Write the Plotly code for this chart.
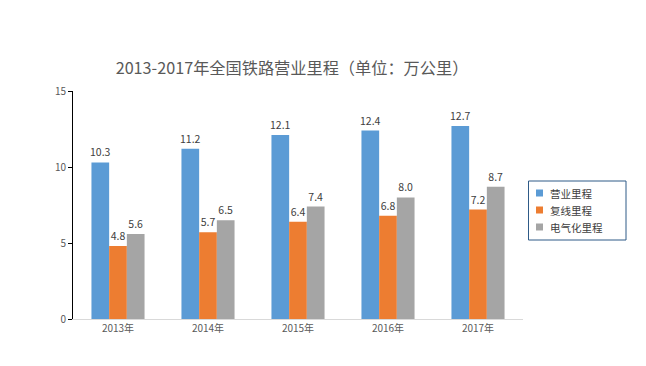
import plotly.graph_objects as go

years = ["2013年", "2014年", "2015年", "2016年", "2017年"]
yingye = [10.3, 11.2, 12.1, 12.4, 12.7]
fuxian = [4.8, 5.7, 6.4, 6.8, 7.2]
dianqi = [5.6, 6.5, 7.4, 8.0, 8.7]
names = ["营业里程", "复线里程", "电气化里程"]
colors = ["#5b9bd5", "#ed7d31", "#a5a5a5"]

# page body has an 8px default margin; figure is sized to fit the window
W, H, OFF = 638, 358, 8
PL, PR, PT, PB = 73, 523, 91, 319  # plot area in window pixels

def px(x):
    return (x - PL) / (PR - PL)

def py(y):
    return (PB - y) / (PB - PT)

fig = go.Figure()
for name, vals, c in zip(names, [yingye, fuxian, dianqi], colors):
    fig.add_trace(go.Bar(
        x=years, y=vals, name=name, marker_color=c, marker_line_width=0,
        text=[f"{v:.1f}" for v in vals], textposition="outside",
        constraintext="none", showlegend=False,
        textfont=dict(size=10.5, color="#404040"), cliponaxis=False,
    ))

# legend box drawn from the series names/colours
shapes = [dict(type="rect", xref="paper", yref="paper",
               x0=px(528.5), x1=px(626), y0=py(181), y1=py(240),
               line=dict(color="#2e5a87", width=1), fillcolor="rgba(0,0,0,0)")]
annotations = []
for i, (name, c) in enumerate(zip(names, colors)):
    yc = 193 + i * 17
    shapes.append(dict(type="rect", xref="paper", yref="paper",
                       x0=px(536), x1=px(543), y0=py(yc - 3.5), y1=py(yc + 3.5),
                       line=dict(width=0), fillcolor=c))
    annotations.append(dict(xref="paper", yref="paper", x=px(548), y=py(yc),
                            xanchor="left", yanchor="middle", showarrow=False,
                            text=name, font=dict(size=10.5, color="#404040")))

fig.update_layout(
    width=W, height=H,
    paper_bgcolor="white", plot_bgcolor="white",
    font=dict(family="Noto Sans CJK SC, sans-serif", color="#595959"),
    title=dict(text="2013-2017年全国铁路营业里程（单位：万公里）",
               x=(292 - OFF) / W, xanchor="center", xref="container",
               y=1 - (68 - OFF) / H, yanchor="middle",
               font=dict(size=16.2, color="#595959")),
    margin=dict(l=PL - OFF, r=W - (PR - OFF), t=PT - OFF, b=H - (PB - OFF), autoexpand=False),
    barmode="group", bargap=0.41, bargroupgap=0,
    showlegend=False,
    shapes=shapes, annotations=annotations,
)
fig.update_yaxes(range=[0, 15], dtick=5, showgrid=False, showline=True, linecolor="#000000",
                 linewidth=1, ticks="outside", ticklen=4, tickcolor="#000000",
                 tickfont=dict(size=10, color="#595959"), zeroline=False)
fig.update_xaxes(showline=True, linecolor="#d9d9d9", linewidth=1, ticks="",
                 tickfont=dict(size=10, color="#595959"))

fig.write_html("out.html")
